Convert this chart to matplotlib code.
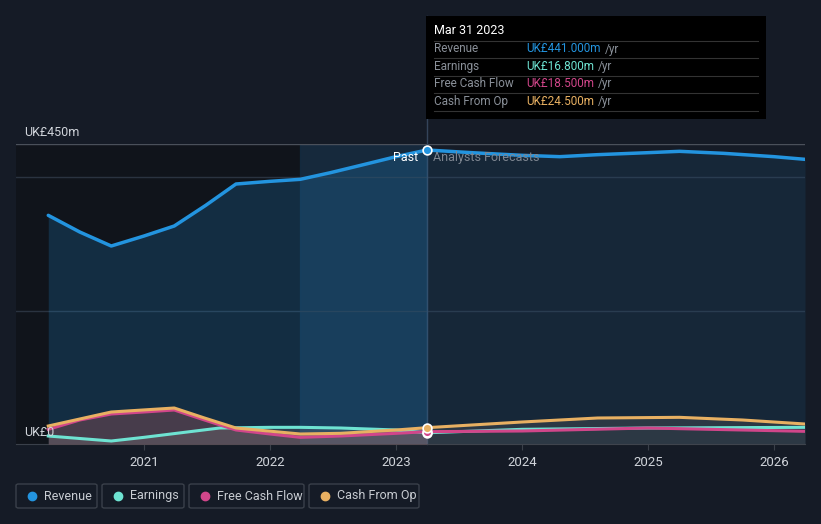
import numpy as np
import matplotlib.pyplot as plt
from matplotlib.patches import Rectangle, FancyBboxPatch

plt.rcParams['font.family'] = ['Roboto', 'DejaVu Sans']

# Данные (млн фунтов)
rev_x = [2020.24, 2020.49, 2020.74, 2021.0, 2021.24, 2021.49, 2021.73, 2022.0, 2022.24,
         2022.48, 2022.72, 2023.0, 2023.246]
rev_y = [343, 318, 297, 312, 327, 358, 390, 394, 397, 407, 418, 431, 441]
rev_fx = [2023.246, 2023.6, 2024.0, 2024.3, 2024.6, 2025.0, 2025.25, 2025.6, 2026.0, 2026.246]
rev_fy = [441, 437, 433, 431, 434, 437, 439, 436, 431, 427]

earn_x = [2020.24, 2020.74, 2021.0, 2021.6, 2022.0, 2022.24, 2022.56, 2023.0, 2023.246]
earn_y = [12, 4.5, 10, 24, 25, 25, 24, 21, 16.8]
earn_fx = [2023.246, 2024.0, 2025.0, 2026.246]
earn_fy = [16.8, 22, 24, 25]

fcf_x = [2020.24, 2020.49, 2020.74, 2021.0, 2021.24, 2021.48, 2021.73, 2022.0, 2022.24,
         2022.56, 2023.0, 2023.246]
fcf_y = [22, 36, 45, 48, 51, 36, 21, 15, 10, 12, 16, 18.5]
fcf_fx = [2023.246, 2024.0, 2025.0, 2026.246]
fcf_fy = [18.5, 19.5, 24, 19]

cfo_x = [2020.24, 2020.74, 2021.24, 2021.48, 2021.73, 2022.24, 2022.56, 2023.0, 2023.246]
cfo_y = [27, 48, 54, 39, 24, 15, 16, 21, 24.5]
cfo_fx = [2023.246, 2024.0, 2024.6, 2025.25, 2025.75, 2026.246]
cfo_fy = [24.5, 33, 39, 40, 36, 30]

years = [2021, 2022, 2023, 2024, 2025, 2026]

W, H = 821, 524
bg = '#151b26'
c_rev = '#2394df'
c_earn = '#6ee3d2'
c_fcf = '#d1468a'
c_cfo = '#e8b062'

fig = plt.figure(figsize=(W / 100, H / 100), dpi=100, facecolor=bg)
ax = fig.add_axes([16 / W, 1 - 444 / H, 789 / W, 300 / H])
ax.set_facecolor(bg)
x0, x1 = 2019.984, 2026.246
ax.set_xlim(x0, x1)
ax.set_ylim(0, 450)

# фон: тёмная прошлая область и подсвеченный последний год
ax.axvspan(x0, 2022.24, color='#10141b', zorder=0)
ax.axvspan(2022.24, 2023.246, color='#1a4a70', alpha=0.3, zorder=0)

# сетка
ax.axhline(450, color='#4a505a', lw=1, zorder=1)
for v in [200, 400]:
    ax.axhline(v, color='#2a3340', lw=1, zorder=1)

# выручка с заливкой
ax.fill_between(rev_x, rev_y, color=c_rev, alpha=0.2, lw=0, zorder=2)
ax.fill_between(rev_fx, rev_fy, color=c_rev, alpha=0.1, lw=0, zorder=2)
ax.plot(rev_x + rev_fx[1:], rev_y + rev_fy[1:], color=c_rev, lw=2.5, zorder=5,
        solid_capstyle='round')

# прочие ряды
ax.fill_between(cfo_x, cfo_y, color='#c06060', alpha=0.3, lw=0, zorder=3)
ax.fill_between(cfo_fx, cfo_fy, color='#606060', alpha=0.3, lw=0, zorder=3)
ax.fill_between(earn_x, earn_y, color='#808080', alpha=0.25, lw=0, zorder=3)
ax.plot(earn_x + earn_fx[1:], earn_y + earn_fy[1:], color=c_earn, lw=2.2, zorder=4)
ax.plot(fcf_x + fcf_fx[1:], fcf_y + fcf_fy[1:], color=c_fcf, lw=2.2, zorder=4)
ax.plot(cfo_x + cfo_fx[1:], cfo_y + cfo_fy[1:], color=c_cfo, lw=2.2, zorder=4)

# вертикальная линия подсказки и маркеры
ax.axvline(2023.246, ymin=0, ymax=(444 - 16) / 300, color='#34445a', lw=1, zorder=1,
           clip_on=False)
for val, c in [(rev_y[-1], c_rev), (earn_y[-1], c_earn), (fcf_y[-1], c_fcf), (cfo_y[-1], c_cfo)]:
    ax.scatter([2023.246], [val], s=40, color=c, edgecolor='white', lw=1.2, zorder=6)

ax.text(2023.246 - 0.07, 430, 'Past', color='white', fontsize=9, ha='right', va='center', zorder=7)
ax.text(2023.246 + 0.05, 430, 'Analysts Forecasts', color='#7d8590', fontsize=9,
        ha='left', va='center', zorder=7)

for s in ax.spines.values():
    s.set_visible(False)
ax.spines['bottom'].set_visible(True)
ax.spines['bottom'].set_color('#3a404a')
ax.set_xticks(years)
ax.set_xticklabels([str(y) for y in years])
ax.tick_params(axis='x', colors='#3a404a', labelcolor='#d0d4da', labelsize=9.5, length=4, pad=5)
ax.set_yticks([])

fig.text(24 / W, 1 - 132 / H, 'UK£450m', color='#d0d4da', fontsize=9, va='center')
fig.text(24 / W, 1 - 432 / H, 'UK£0', color='#d0d4da', fontsize=9, va='center')

# подсказка
fig.patches.append(Rectangle((426 / W, 1 - 119 / H), 340 / W, 103 / H, transform=fig.transFigure,
                             facecolor='black', edgecolor='none', zorder=10))
fig.text(434 / W, 1 - 31 / H, 'Mar 31 2023', color='white', fontsize=9, va='center', zorder=11)
rows = [('Revenue', 'UK£441.000m', c_rev), ('Earnings', 'UK£16.800m', c_earn),
        ('Free Cash Flow', 'UK£18.500m', c_fcf), ('Cash From Op', 'UK£24.500m', c_cfo)]
for i, (lab, val, c) in enumerate(rows):
    yy = 1 - (49 + i * 17.5) / H
    fig.text(434 / W, yy, lab, color='#8a9099', fontsize=8.5, va='center', zorder=11)
    t = fig.text(526 / W, yy, val, color=c, fontsize=8.5, va='center', zorder=11)
    fig.canvas.draw()
    bb = t.get_window_extent()
    fig.text(bb.x1 / W + 4 / W, yy, '/yr', color='#8a9099', fontsize=8.5, va='center', zorder=11)
for yl in [41, 58, 76, 93, 111]:
    fig.add_artist(plt.Line2D([434 / W, 758 / W], [1 - yl / H, 1 - yl / H], color='#333333',
                              lw=0.8, zorder=11))

# легенда
leg = [('Revenue', c_rev, 16, 97), ('Earnings', c_earn, 102, 184),
       ('Free Cash Flow', c_fcf, 189, 304), ('Cash From Op', c_cfo, 309, 419)]
for lab, c, a, b in leg:
    fig.patches.append(FancyBboxPatch((a / W, 1 - 508 / H), (b - a) / W, 24 / H,
                                      boxstyle='round,pad=0,rounding_size=0.003',
                                      transform=fig.transFigure, facecolor='none',
                                      edgecolor='#3a404a', lw=1))
    fig.add_artist(plt.Line2D([(a + 16) / W], [1 - 496 / H], marker='o', color=c,
                              markersize=6, lw=0))
    fig.text((a + 28) / W, 1 - 496 / H, lab, color='#c8ccd2', fontsize=9, va='center')

fig.savefig('out.png', dpi=100, facecolor=bg)
